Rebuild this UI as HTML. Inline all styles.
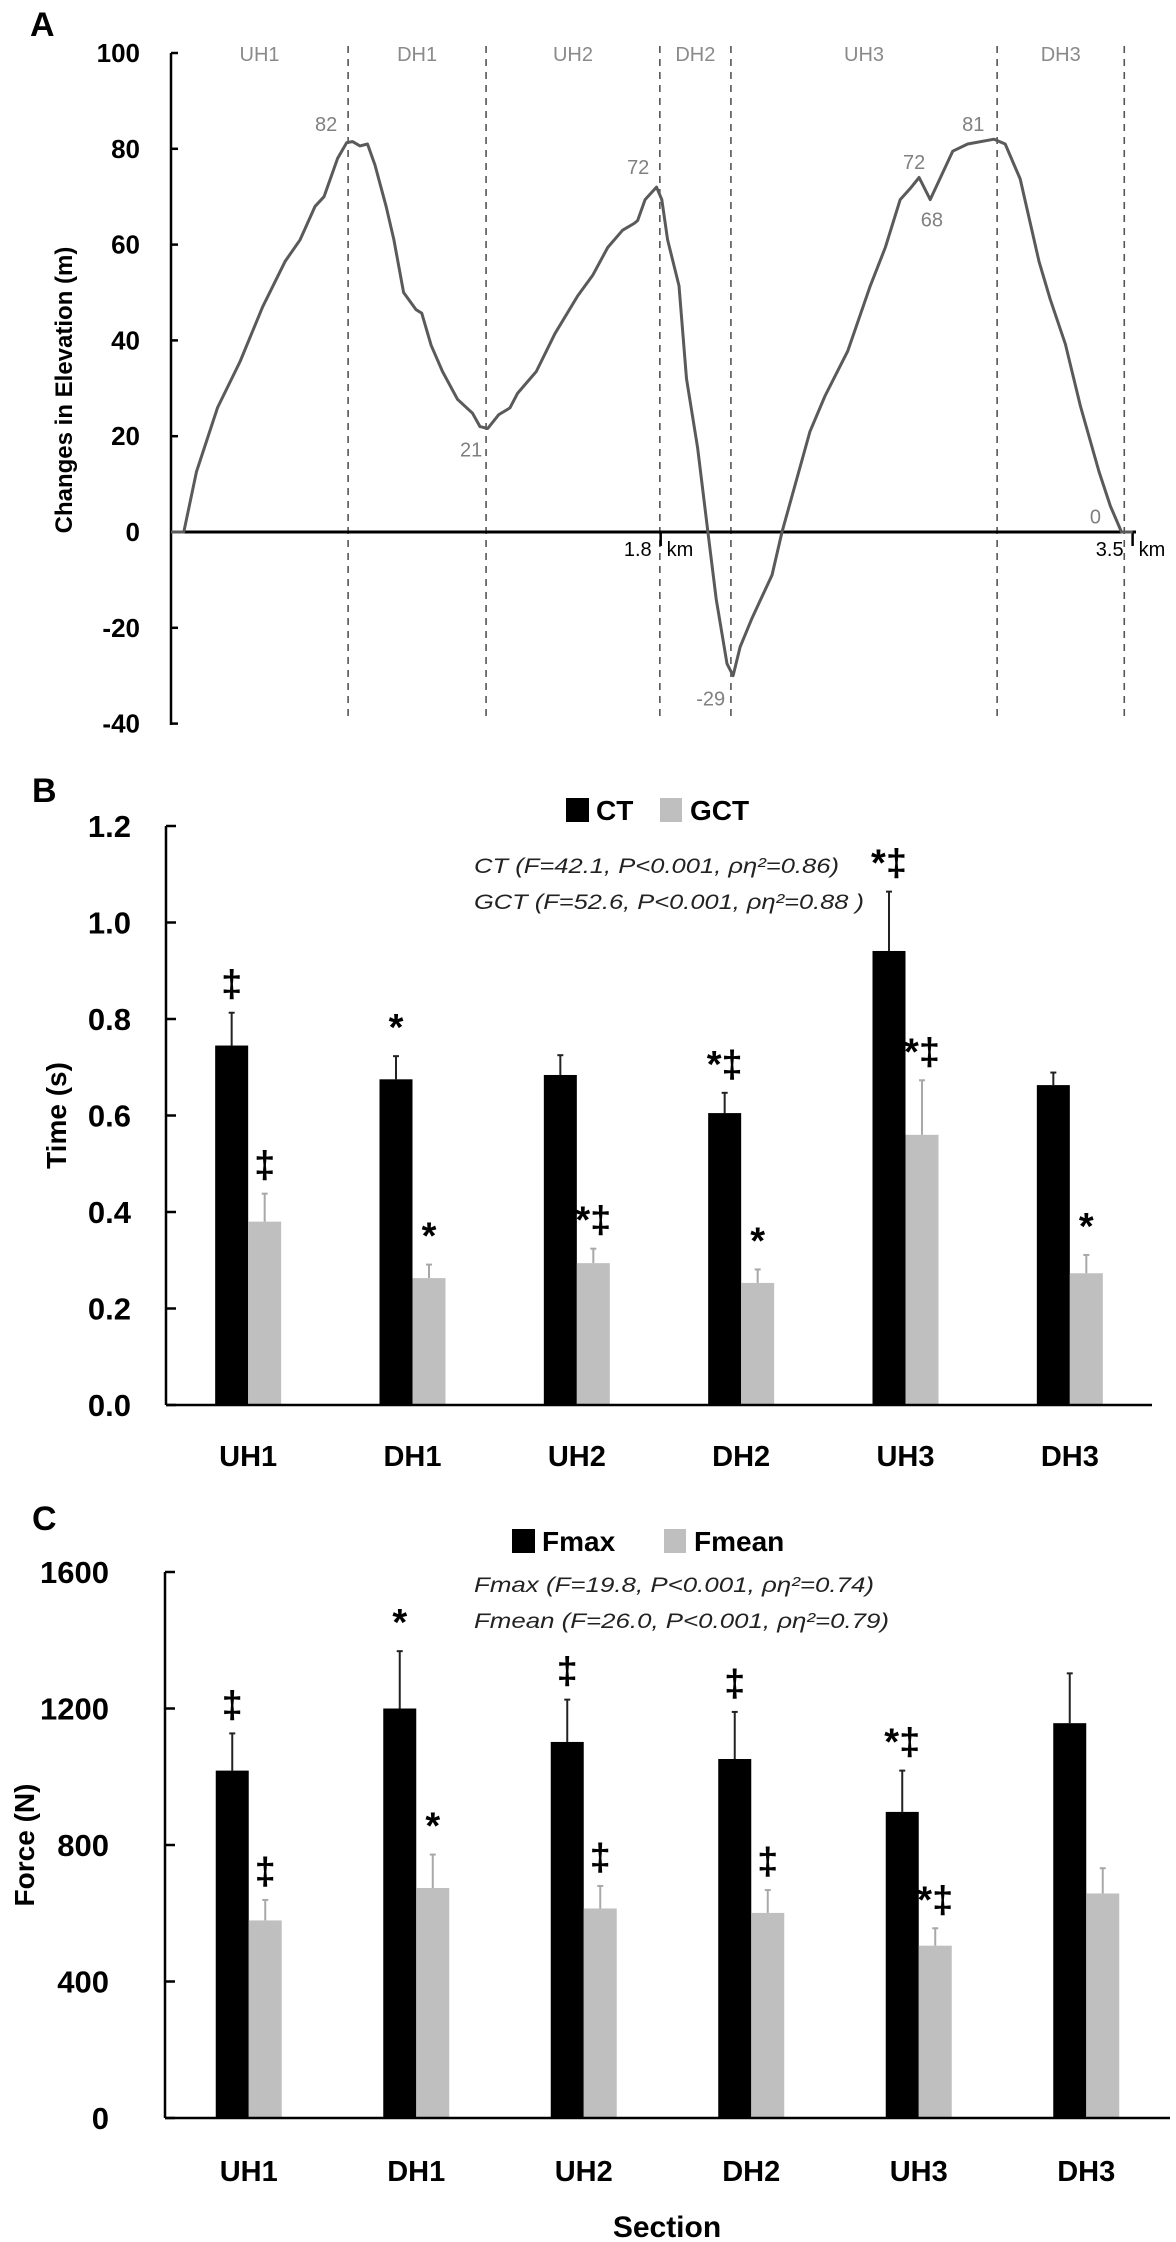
<!DOCTYPE html>
<html><head><meta charset="utf-8">
<style>
html,body{margin:0;padding:0;background:#fff;}
svg{display:block;font-family:"Liberation Sans",sans-serif;}
</style></head>
<body>
<svg id="fig" width="1176" height="2242" viewBox="0 0 1176 2242" xmlns="http://www.w3.org/2000/svg">
<g id="pa"></g>
<g id="pb"></g>
<g id="pc"></g>
</svg>
<script>
// ---- Panel A data ----
const profKm = [0.036,0.082,0.128,0.204,0.285,0.366,0.447,0.501,0.555,0.587,0.636,0.669,0.690,0.717,0.744,0.771,0.811,0.839,0.874,0.919,0.939,0.973,1.014,1.068,1.122,1.149,1.177,1.217,1.257,1.285,1.352,1.419,1.501,1.555,1.609,1.663,1.704,1.717,1.744,1.785,1.804,1.825,1.866,1.893,1.933,1.970,2.000,2.039,2.061,2.086,2.129,2.201,2.237,2.338,2.392,2.474,2.555,2.609,2.663,2.703,2.731,2.771,2.812,2.852,2.906,3.001,3.041,3.095,3.163,3.203,3.258,3.312,3.379,3.420,3.460,3.500];
const profElev = [0,0,12.6,26,35.6,47,56.5,61,68,70,78,81.3,81.5,80.6,81,76.6,68,61,50,46.4,45.7,39,33.5,27.7,24.8,22,21.6,24.5,25.9,29,33.5,41.4,49.3,53.6,59.4,63,64.4,65,69.4,72,69.4,61,51.4,32,17.6,0,-14,-27.5,-30,-24,-18,-9,0,21,28.4,37.8,51.4,59.4,69.4,72,74,69.4,74.5,79.5,81,82,81,73.7,56.5,48.6,39.2,26.3,12.6,5.4,0,0];
const sectionNames = ["UH1","DH1","UH2","DH2","UH3","DH3"];
const sectionBoundsKm = [0.674,1.171,1.797,2.053,3.012,3.470];
const peakLabels = ["82","21","72","72","68","81","0","-29"];
const peakKm = [0.595,1.117,1.719,2.713,2.777,2.926,3.366,1.98];
const peakElev = [85,17,76,77,65,85,3,-35];
const yTicksA = [100,80,60,40,20,0,-20,-40];

// ---- Panel B data ----
const categories = ["UH1","DH1","UH2","DH2","UH3","DH3"];
const ctVals = [0.745,0.675,0.684,0.605,0.941,0.663];
const ctErr = [0.068,0.048,0.041,0.042,0.123,0.026];
const gctVals = [0.380,0.263,0.294,0.253,0.560,0.273];
const gctErr = [0.058,0.028,0.030,0.028,0.113,0.038];
const ctMarks = ["‡","*","","*‡","*‡",""];
const gctMarks = ["‡","*","*‡","*","*‡","*"];
const yTicksB = ["0.0","0.2","0.4","0.6","0.8","1.0","1.2"];

// ---- Panel C data ----
const fmaxVals = [1018,1200,1102,1052,897,1157];
const fmaxErr = [109,168,124,138,121,146];
const fmeanVals = [579,674,614,601,505,658];
const fmeanErr = [60,98,66,67,51,74];
const fmaxMarks = ["‡","*","‡","‡","*‡",""];
const fmeanMarks = ["‡","*","‡","‡","*‡",""];
const yTicksC = [0,400,800,1200,1600];

const NS="http://www.w3.org/2000/svg";
function mk(parent,tag,attrs,txt){const e=document.createElementNS(NS,tag);for(const k in attrs)e.setAttribute(k,attrs[k]);if(txt!==undefined)e.textContent=txt;parent.appendChild(e);return e;}

// ===== Panel A =====
(function(){
const g=document.getElementById('pa');
const xA=km=>161+277.6*km;
const yA=e=>532-4.79*e;
let t=mk(g,'text',{x:30,y:36,'font-size':34,'font-weight':'bold'},'A');


sectionBoundsKm.forEach((k,i)=>{
 const l=mk(g,'line',{x1:xA(k),x2:xA(k),y1:46,y2:722,stroke:'#555','stroke-width':1.6,'stroke-dasharray':'7,6'});
 
 
});
const prev=[0.036].concat(sectionBoundsKm.slice(0,5));
sectionNames.forEach((n,i)=>{
 const cx=(xA(prev[i])+xA(sectionBoundsKm[i]))/2;
 const s=mk(g,'text',{x:cx,y:61,'font-size':20,fill:'#8a8a8a','text-anchor':'middle'},n);
 
 
});
const ax=mk(g,'line',{x1:171,x2:171,y1:53,y2:725,stroke:'#000','stroke-width':2.5});


yTicksA.forEach(v=>{
 const y=yA(v);
 const tk=mk(g,'line',{x1:171,x2:178,y1:y,y2:y,stroke:'#000','stroke-width':2.5});
 
 
 const tl=mk(g,'text',{x:140,y:y+9,'font-size':26,'font-weight':'bold','text-anchor':'end'},String(v));
 
 
});
const yt=mk(g,'text',{x:0,y:0,'font-size':24,'font-weight':'bold','text-anchor':'middle',transform:'translate(72,390) rotate(-90)'},'Changes in Elevation (m)');


const zl=mk(g,'line',{x1:171,x2:1136,y1:532,y2:532,stroke:'#000','stroke-width':3});


[[1.8,'1.8'],[3.5,'3.5']].forEach(([k,s])=>{
 const x=xA(k);
 const m=mk(g,'line',{x1:x,x2:x,y1:532,y2:546,stroke:'#000','stroke-width':2.5});
 
 
 const a=mk(g,'text',{x:x-9,y:556,'font-size':20,'text-anchor':'end'},s);
 
 
 const b=mk(g,'text',{x:x+6,y:556,'font-size':20},'km');
 
 
});
let d='';
profKm.forEach((k,i)=>{d+=(i?'L':'M')+xA(k).toFixed(1)+','+yA(profElev[i]).toFixed(1);});
const p=mk(g,'path',{d:d,fill:'none',stroke:'#5a5a5a','stroke-width':3,'stroke-linejoin':'round'});


peakLabels.forEach((s,i)=>{
 const l=mk(g,'text',{x:xA(peakKm[i]),y:yA(peakElev[i])+6,'font-size':20,fill:'#808080','text-anchor':'middle'},s);
 
 
});
})();

function barPanel(g,o){
 const n=categories.length;
 const step=(o.x1-o.x0)/n;
 const xC=i=>o.x0+step*(i+0.5);
 const yS=v=>o.y0-(v-o.vmin)/(o.vmax-o.vmin)*(o.y0-o.yTop);
 let t=mk(g,'text',{x:o.labelX,y:o.labelY,'font-size':34,'font-weight':'bold'},o.label);
 
 
 const lb=mk(g,'rect',{x:o.legX,y:o.legY-12,width:23,height:24,fill:'#000'});
 
 
 const lt=mk(g,'text',{x:o.legX+30,y:o.legY+10,'font-size':28,'font-weight':'bold'},o.s1);
 
 
 const lb2=mk(g,'rect',{x:o.legX2,y:o.legY-12,width:22,height:24,fill:'#bfbfbf'});
 
 
 const lt2=mk(g,'text',{x:o.legX2+30,y:o.legY+10,'font-size':28,'font-weight':'bold'},o.s2);
 
 
 o.stats.forEach((s,i)=>{
  const st=mk(g,'text',{x:474,y:o.statY+i*36,'font-size':21,'font-style':'italic',fill:'#222',textLength:o.statW[i],lengthAdjust:'spacingAndGlyphs'},s);
  
  
 });
 const ya=mk(g,'line',{x1:o.x0,x2:o.x0,y1:o.yTop,y2:o.y0,stroke:'#000','stroke-width':2.5});
 
 
 o.ticks.forEach(tv=>{
  const v=parseFloat(tv);const y=yS(v);
  const tk=mk(g,'line',{x1:o.x0,x2:o.x0+10,y1:y,y2:y,stroke:'#000','stroke-width':2.5});
  
  
  const tl=mk(g,'text',{x:o.tickRight,y:y+11,'font-size':31,'font-weight':'bold','text-anchor':'end'},String(tv));
  
  
 });
 const yt=mk(g,'text',{x:0,y:0,'font-size':28,'font-weight':'bold','text-anchor':'middle',transform:'translate('+o.titleX+','+((o.yTop+o.y0)/2)+') rotate(-90)'},o.ytitle);
 
 
 const bw=33;
 categories.forEach((c,i)=>{
  const cx=xC(i);
  [[o.v1,o.e1,o.m1,'#000',-bw,o.s1],[o.v2,o.e2,o.m2,'#bfbfbf',0,o.s2]].forEach(([vals,errs,marks,col,off,nm])=>{
   const x=cx+off, y=yS(vals[i]), ye=yS(vals[i]+errs[i]);
   const ex=x+bw/2;
   const el=mk(g,'line',{x1:ex,x2:ex,y1:ye,y2:y,stroke:col==='#000'?'#222':'#a8a8a8','stroke-width':2});
   
   
   const ec=mk(g,'line',{x1:ex-3,x2:ex+3,y1:ye,y2:ye,stroke:col==='#000'?'#222':'#a8a8a8','stroke-width':2});
   
   
   const r=mk(g,'rect',{x:x,y:y,width:bw,height:o.y0-y,fill:col});
   
   
   if(marks[i]){
    const m=mk(g,'text',{x:ex,y:ye-16,'font-size':38,'font-weight':'bold','text-anchor':'middle'},marks[i]);
    
    
   }
  });
  const cl=mk(g,'text',{x:cx,y:o.catY,'font-size':29,'font-weight':'bold','text-anchor':'middle'},c);
  
  
 });
 const xa=mk(g,'line',{x1:o.x0,x2:o.x1,y1:o.y0,y2:o.y0,stroke:'#000','stroke-width':2.5});
 
 
}

barPanel(document.getElementById('pb'),{prefix:'b',label:'B',labelX:32,labelY:802,x0:166,x1:1152,y0:1405,yTop:826,vmin:0,vmax:1.2,
 ticks:yTicksB,tickRight:131,titleX:66,ytitle:'Time (s)',catY:1466,
 legX:566,legX2:660,legY:810,s1:'CT',s2:'GCT',
 stats:['CT (F=42.1, P<0.001, ρη²=0.86)','GCT (F=52.6, P<0.001, ρη²=0.88 )'],statY:873,statW:[365,390],
 v1:ctVals,e1:ctErr,m1:ctMarks,v2:gctVals,e2:gctErr,m2:gctMarks});

barPanel(document.getElementById('pc'),{prefix:'c',label:'C',labelX:32,labelY:1530,x0:165,x1:1170,y0:2118,yTop:1572,vmin:0,vmax:1600,
 ticks:yTicksC,tickRight:109,titleX:34,ytitle:'Force (N)',catY:2181,
 legX:512,legX2:664,legY:1541,s1:'Fmax',s2:'Fmean',
 stats:['Fmax (F=19.8, P<0.001, ρη²=0.74)','Fmean (F=26.0, P<0.001, ρη²=0.79)'],statY:1592,statW:[400,415],
 v1:fmaxVals,e1:fmaxErr,m1:fmaxMarks,v2:fmeanVals,e2:fmeanErr,m2:fmeanMarks});

(function(){
 const s=mk(document.getElementById('pc'),'text',{x:667,y:2237,'font-size':30,'font-weight':'bold','text-anchor':'middle'},'Section');
 
 
})();
</script>
</body></html>
